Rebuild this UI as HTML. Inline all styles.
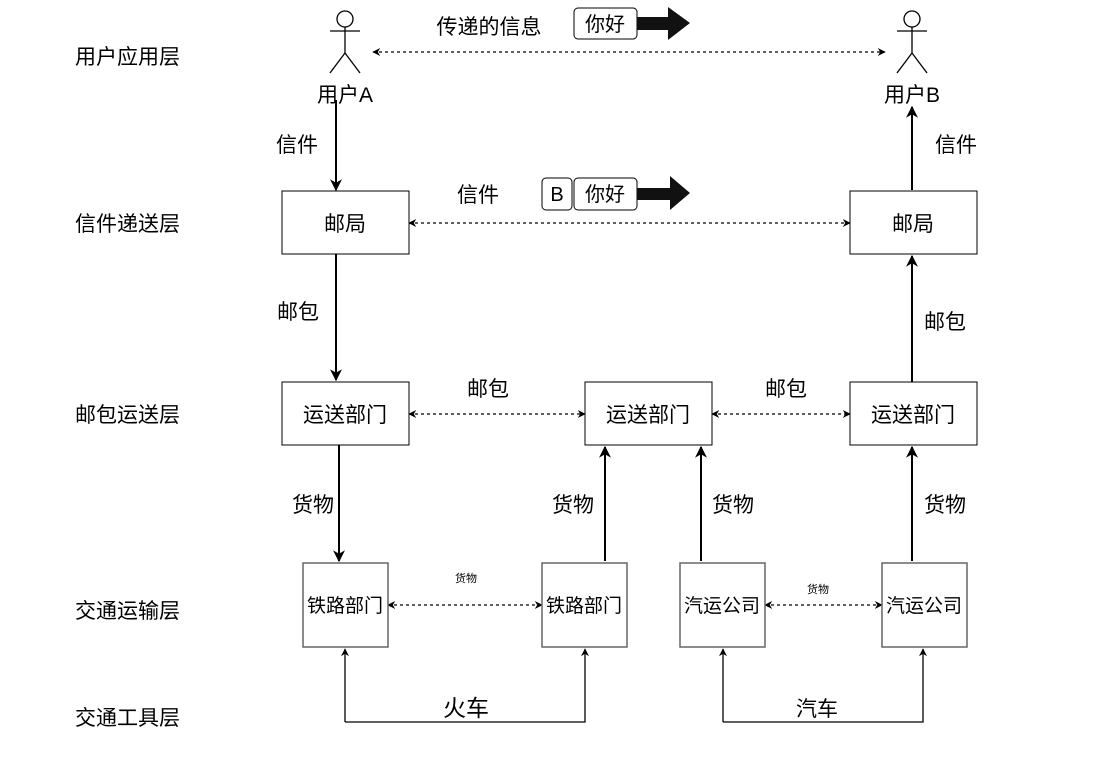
<!DOCTYPE html>
<html><head><meta charset="utf-8"><style>
html,body{margin:0;padding:0;background:#fff;}
svg{display:block;}
text{font-family:"Liberation Sans","Noto Sans CJK SC",sans-serif;fill:#000;}
</style></head><body>
<svg width="1107" height="757" viewBox="0 0 1107 757" xmlns="http://www.w3.org/2000/svg">
<defs>
<marker id="a" viewBox="0 0 10 10" refX="9" refY="5" markerWidth="8" markerHeight="8" orient="auto-start-reverse" markerUnits="userSpaceOnUse"><path d="M0,0 L10,5 L0,10 L3,5 Z" fill="#000"/></marker>
<marker id="b" viewBox="0 0 10 10" refX="9" refY="5" markerWidth="12" markerHeight="12" orient="auto-start-reverse" markerUnits="userSpaceOnUse"><path d="M0,0 L10,5 L0,10 L3,5 Z" fill="#000"/></marker>
</defs>
<g font-size="21">
<text x="75" y="64">用户应用层</text>
<text x="75" y="231">信件递送层</text>
<text x="75" y="422">邮包运送层</text>
<text x="75" y="618">交通运输层</text>
<text x="75" y="725">交通工具层</text>
</g>
<g stroke="#000" stroke-width="1.3" fill="#fff">
<circle cx="345" cy="19" r="8"/>
<path d="M345 27V53M330 31H360M345 53L330 73M345 53L360 73" fill="none"/>
<circle cx="912" cy="19" r="8"/>
<path d="M912 27V53M897 31H927M912 53L897 73M912 53L927 73" fill="none"/>
</g>
<g font-size="21" text-anchor="middle">
<text x="345" y="102">用户A</text>
<text x="912" y="102">用户B</text>
<text x="489" y="34">传递的信息</text>
<text x="478" y="202">信件</text>
<text x="297" y="152">信件</text>
<text x="956" y="152">信件</text>
<text x="298" y="319" fill="#3a0000">邮包</text>
<text x="945" y="329">邮包</text>
<text x="488" y="396">邮包</text>
<text x="786" y="396">邮包</text>
<text x="313" y="512">货物</text>
<text x="573" y="512">货物</text>
<text x="733" y="512">货物</text>
<text x="945" y="512">货物</text>
<text x="466" y="716" font-size="23">火车</text>
<text x="817" y="716">汽车</text>
</g>
<g font-size="11" text-anchor="middle">
<text x="466" y="582">货物</text>
<text x="818" y="593">货物</text>
</g>
<g stroke="#000" stroke-width="1.2" stroke-dasharray="3,3" fill="none" marker-start="url(#a)" marker-end="url(#a)">
<path d="M373 52H885"/>
<path d="M409 223H850"/>
<path d="M409 414H585"/>
<path d="M712 414H850"/>
<path d="M388 605H542"/>
<path d="M765 605H882"/>
</g>
<g stroke="#000" stroke-width="2" fill="none" marker-end="url(#b)">
<path d="M336 100V190"/>
<path d="M912 190V107"/>
<path d="M336 254V380"/>
<path d="M912 382V256"/>
<path d="M339 445V561"/>
<path d="M605 561V447"/>
<path d="M701 561V447"/>
<path d="M912 561V447"/>
</g>
<g stroke="#000" stroke-width="1.3" fill="none" marker-end="url(#a)">
<path d="M345 722V649"/>
<path d="M345 722H585V649"/>
<path d="M723 722V649"/>
<path d="M723 722H923V649"/>
</g>
<g fill="#fff" stroke="#000" stroke-width="1">
<rect x="282" y="191" width="127" height="63"/>
<rect x="850" y="191" width="127" height="63"/>
<rect x="282" y="382" width="127" height="63"/>
<rect x="585" y="382" width="127" height="63"/>
<rect x="850" y="382" width="127" height="63"/>
</g>
<g fill="#fff" stroke="#666" stroke-width="1.5">
<rect x="303" y="563" width="85" height="84"/>
<rect x="542" y="563" width="85" height="84"/>
<rect x="680" y="563" width="85" height="84"/>
<rect x="882" y="563" width="85" height="84"/>
</g>
<g font-size="21" text-anchor="middle">
<text x="345" y="231">邮局</text>
<text x="913" y="231">邮局</text>
<text x="345" y="422">运送部门</text>
<text x="648" y="422">运送部门</text>
<text x="913" y="422">运送部门</text>
</g>
<g font-size="19" text-anchor="middle">
<text x="345" y="612">铁路部门</text>
<text x="584" y="612">铁路部门</text>
<text x="722" y="612">汽运公司</text>
<text x="924" y="612">汽运公司</text>
</g>
<g fill="#fff" stroke="#000" stroke-width="1">
<rect x="574" y="8" width="63" height="31" rx="4"/>
<rect x="542" y="178" width="30" height="32" rx="4"/>
<rect x="574" y="178" width="63" height="32" rx="4"/>
</g>
<path d="M637 17H668V7L690 23L668 40V30H637Z" fill="#111"/>
<path d="M637 188H670V176L690 193L670 210V200H637Z" fill="#111"/>
<g font-size="20" text-anchor="middle">
<text x="605" y="31">你好</text>
<text x="557" y="201">B</text>
<text x="605" y="201">你好</text>
</g>
</svg>
</body></html>
